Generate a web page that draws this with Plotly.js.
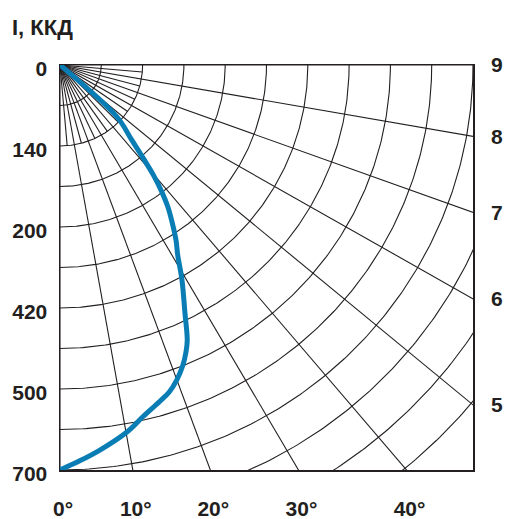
<!DOCTYPE html>
<html>
<head>
<meta charset="utf-8">
<script src="https://cdn.plot.ly/plotly-3.0.1.min.js"></script>
<style>html,body{margin:0;padding:0;background:#fff;}#chart{width:506px;height:519px;}</style>
</head>
<body>
<div id="chart"></div>
<script>
// ---- data (angle from nadir, intensity in cd) ----
const curveAngleDeg = [0, 2.8, 5.8, 10.2, 13, 16.3, 18.1, 20, 21.8, 23.3, 24.4, 26.3, 29.1, 31.3, 33, 35, 36.7, 38.2, 39.7, 41.2, 43.3, 47.1, 47.5];
const curveIntensity = [700, 685, 669, 644, 624, 605, 595, 579, 560, 540, 522, 478, 425, 384, 361, 331, 306, 279, 249, 214, 176, 132, 0];
const cdPerArc = 70;                       // one arc step = 70 cd (10 arcs = 700)
const arcCount = 13;
const majorRayAngles = [0, 10, 20, 30, 40, 50, 60, 70, 80, 90];
const minorRayAngles = [5, 15, 25, 35, 45, 55, 65, 75, 85];
const minorRayLength = 2;                  // in arc steps
const leftTickArcs = [0, 2, 4, 6, 8, 10];
const leftTickText = ['0', '140', '200', '420', '500', '700'];
const bottomTickAngles = [0, 10, 20, 30, 40];
const bottomTickText = ['0°', '10°', '20°', '30°', '40°'];
const rightTickAngles = [90, 80, 70, 60, 50];
const rightTickText = ['9', '8', '7', '6', '5'];
const titleText = 'I, ККД';

// ---- geometry helpers (polar -> box coordinates, origin top-left, 0° straight down) ----
const BOX = 10;
const rad = d => d * Math.PI / 180;
const px = (r, a) => r * Math.sin(rad(a));
const py = (r, a) => r * Math.cos(rad(a));

const ink = '#231f20';
const gx = [], gy = [];
for (let k = 1; k <= arcCount; k++) {
  for (let a = 0; a <= 90; a += 0.5) { gx.push(px(k, a)); gy.push(py(k, a)); }
  gx.push(null); gy.push(null);
}
majorRayAngles.forEach(a => { gx.push(0, px(20, a), null); gy.push(0, py(20, a), null); });
minorRayAngles.forEach(a => { gx.push(0, px(minorRayLength, a), null); gy.push(0, py(minorRayLength, a), null); });

const cx = curveAngleDeg.map((a, i) => px(curveIntensity[i] / cdPerArc, a));
const cy = curveAngleDeg.map((a, i) => py(curveIntensity[i] / cdPerArc, a));

const bottomTickVals = bottomTickAngles.map(a => BOX * Math.tan(rad(a)));
const rightTickVals = rightTickAngles.map(a => BOX / Math.tan(rad(a)));

const FAM = 'Liberation Sans, Arial, Helvetica, sans-serif';
const tickFont = {family: FAM, size: 21, color: ink, weight: 700};

const traces = [
  {x: gx, y: gy, mode: 'lines', line: {color: ink, width: 1.1}, hoverinfo: 'skip', connectgaps: false},
  {x: cx, y: cy, mode: 'lines', line: {color: '#0a7db5', width: 5, shape: 'spline', smoothing: 1}, hoverinfo: 'skip'},
  {x: [0], y: [0], yaxis: 'y2', mode: 'markers', marker: {opacity: 0}, hoverinfo: 'skip'}
];

const layout = {
  width: 506, height: 519,
  margin: {l: 60, r: 33, t: 65, b: 49},
  paper_bgcolor: '#fff', plot_bgcolor: '#fff',
  showlegend: false,
  title: {text: titleText, x: 12 / 506, xanchor: 'left', xref: 'container', y: 1 - 27 / 519, yanchor: 'middle', yref: 'container',
          font: {family: FAM, size: 22, color: ink, weight: 700}},
  xaxis: {range: [0, BOX], showgrid: false, zeroline: false, showline: true, mirror: true,
          linecolor: ink, linewidth: 1.5, ticks: '', tickvals: bottomTickVals, ticktext: bottomTickText,
          tickfont: tickFont, ticklabelstandoff: 19, ticklabelshift: 3, fixedrange: true},
  yaxis: {range: [BOX, 0], showgrid: false, zeroline: false, showline: true, mirror: true,
          linecolor: ink, linewidth: 1.5, ticks: '', tickvals: leftTickArcs, ticktext: leftTickText,
          tickfont: tickFont, ticklabelstandoff: 7, ticklabelshift: -4, fixedrange: true},
  yaxis2: {range: [BOX, 0], overlaying: 'y', side: 'right', showgrid: false, zeroline: false,
           showline: false, ticks: '', tickvals: rightTickVals, ticktext: rightTickText,
           tickfont: tickFont, ticklabelstandoff: 17, fixedrange: true}
};

Plotly.newPlot('chart', traces, layout, {displayModeBar: false, staticPlot: true});
</script>
</body>
</html>
